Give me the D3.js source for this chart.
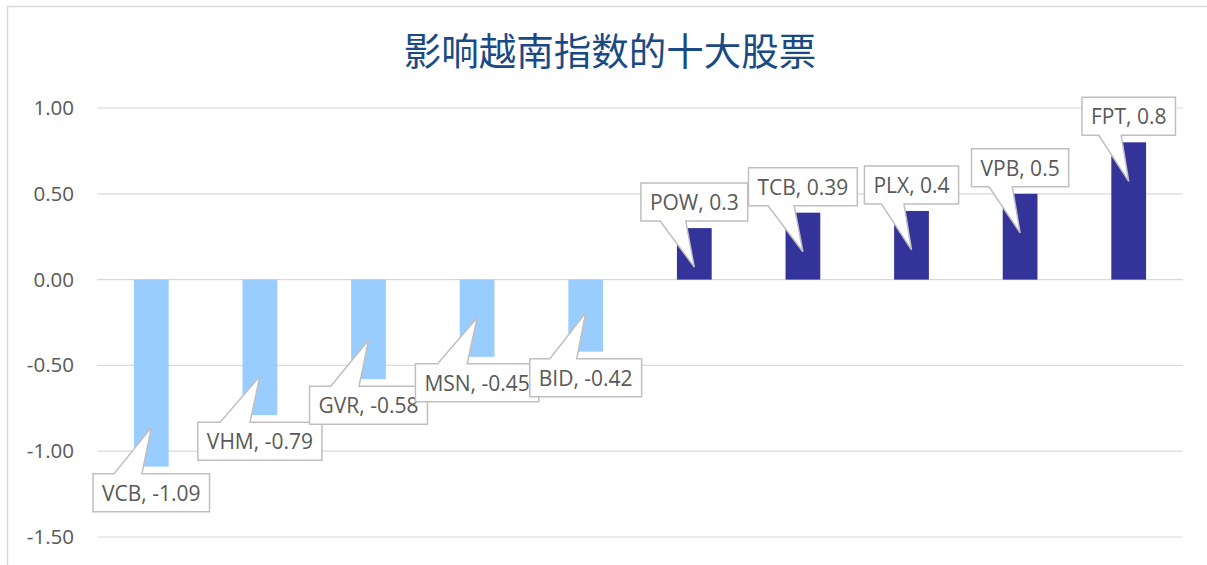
<!DOCTYPE html>
<html>
<head>
<meta charset="utf-8">
<script src="https://cdn.jsdelivr.net/npm/d3@7"></script>
<style>
  body { margin: 0; background: #fff; }
  svg { display: block; }
</style>
</head>
<body>
<svg id="chart" width="1207" height="565"></svg>
<script>
const stocks = ["VCB", "VHM", "GVR", "MSN", "BID", "POW", "TCB", "PLX", "VPB", "FPT"];
const impacts = [-1.09, -0.79, -0.58, -0.45, -0.42, 0.3, 0.39, 0.4, 0.5, 0.8];
const yTicks = [1.0, 0.5, 0.0, -0.5, -1.0, -1.5];
const chartTitle = "影响越南指数的十大股票";

const svg = d3.select("#chart");
const W = 1207, H = 565;
const labelFont = "'Open Sans', 'Noto Sans', sans-serif";

// outer chart frame
svg.append("rect")
    .attr("x", 7.5).attr("y", 6.5)
    .attr("width", W + 10).attr("height", H + 10)
    .attr("fill", "white")
    .attr("stroke", "#d9d9d9")
    .attr("stroke-width", 1.5);

svg.append("text")
    .attr("x", 610).attr("y", 65)
    .attr("text-anchor", "middle")
    .attr("font-family", "'Noto Sans CJK SC', sans-serif")
    .attr("font-size", 37.5)
    .attr("fill", "#1a4a85")
    .text(chartTitle);

const x = d3.scaleBand().domain(stocks).range([97, 1183]).paddingInner(0.68).paddingOuter(0.34);
const y = d3.scaleLinear().domain([-1.5, 1.0]).range([537, 108]);

// gridlines
svg.append("g").selectAll("line")
    .data(yTicks)
    .enter().append("line")
    .attr("x1", 97).attr("x2", 1183)
    .attr("y1", d => y(d)).attr("y2", d => y(d))
    .attr("stroke", "#d9d9d9")
    .attr("stroke-width", 1.2);

// y axis labels (plain hyphen, like the original)
const yAxis = d3.axisLeft(y).tickValues(yTicks)
    .tickFormat(d => d.toFixed(2))
    .tickSize(0).tickPadding(0);
const ag = svg.append("g").attr("transform", "translate(74,0)").call(yAxis);
ag.select(".domain").remove();
ag.selectAll("text")
    .attr("font-family", labelFont)
    .attr("font-size", 20.5)
    .attr("fill", "#595959");

const data = stocks.map((s, i) => ({ name: s, value: impacts[i] }));

// bars
svg.append("g").selectAll("rect")
    .data(data)
    .enter().append("rect")
    .attr("x", d => x(d.name))
    .attr("width", x.bandwidth())
    .attr("y", d => y(Math.max(0, d.value)))
    .attr("height", d => Math.abs(y(d.value) - y(0)))
    .attr("fill", d => d.value < 0 ? "#99ccff" : "#333399");

// callout labels
const labels = svg.append("g");
data.forEach(d => {
    const g = labels.append("g");
    const cx = x(d.name) + x.bandwidth() / 2;
    const yEnd = y(d.value);
    const path = g.append("path");
    const txt = g.append("text")
        .attr("font-family", labelFont)
        .attr("font-size", 21)
        .attr("fill", "#595959")
        .attr("text-anchor", "middle")
        .attr("x", cx)
        .text(d.name + ", " + d.value);
    const tw = txt.node().getComputedTextLength();
    const w = tw + 18, h = 38;
    const left = cx - w / 2, right = cx + w / 2;
    const bL = left + 0.18 * w, bR = left + 0.42 * w;
    let p;
    if (d.value < 0) {
        const top = yEnd + 7, bottom = top + h;
        const tipY = yEnd - 39;
        p = `M${left},${top}L${bL},${top}L${cx},${tipY}L${bR},${top}L${right},${top}L${right},${bottom}L${left},${bottom}Z`;
        txt.attr("y", top + 27);
    } else {
        const bottom = yEnd - 7, top = bottom - h;
        const tipY = yEnd + 39;
        p = `M${left},${top}L${right},${top}L${right},${bottom}L${bR},${bottom}L${cx},${tipY}L${bL},${bottom}L${left},${bottom}Z`;
        txt.attr("y", top + 27);
    }
    path.attr("d", p)
        .attr("fill", "white")
        .attr("stroke", "#bfbfbf")
        .attr("stroke-width", 1.5)
        .attr("stroke-linejoin", "miter");
});
</script>
</body>
</html>
